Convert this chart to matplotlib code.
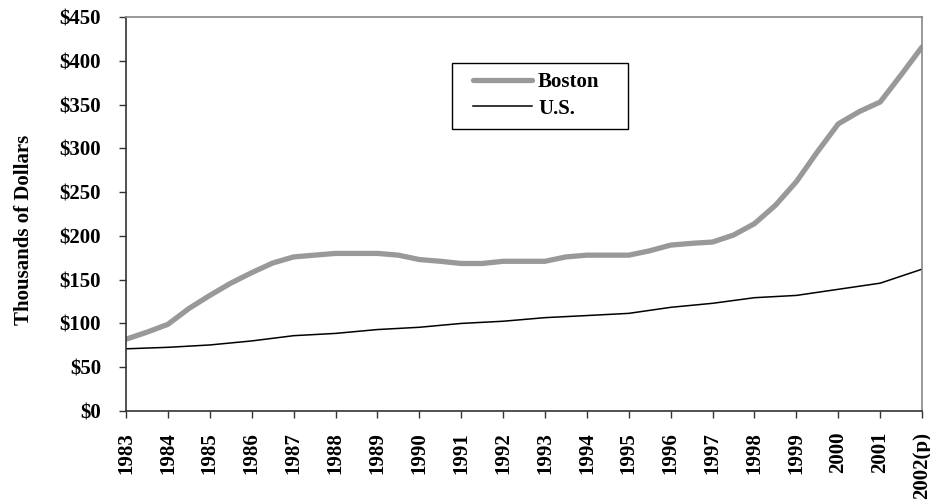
import matplotlib
matplotlib.use("Agg")
import matplotlib.pyplot as plt
from matplotlib.patches import Rectangle

# Boston median price, half-year points (thousands of dollars)
boston_x = [1983, 1983.5, 1984, 1984.5, 1985, 1985.5, 1986, 1986.5, 1987, 1987.5,
            1988, 1988.5, 1989, 1989.5, 1990, 1990.5, 1991, 1991.5, 1992, 1992.5,
            1993, 1993.5, 1994, 1994.5, 1995, 1995.5, 1996, 1996.5, 1997, 1997.5,
            1998, 1998.5, 1999, 1999.5, 2000, 2000.5, 2001, 2001.5, 2002]
boston_y = [82, 90, 99, 117, 132, 146, 158, 169, 176, 178,
            180, 180, 180, 178, 173, 171, 168.5, 168.5, 171, 171,
            171, 176, 178, 178, 178, 183, 189.5, 191.5, 193, 201,
            214, 235, 262, 296, 328, 342, 353, 384, 416]

# U.S. median price, annual
us_x = list(range(1983, 2003))
us_y = [71, 72.7, 75.4, 80, 86, 88.6, 93, 95.6, 100, 102.5,
        106.6, 109, 111.5, 118.4, 123, 129.4, 132, 139, 146, 162]

year_labels = [str(y) for y in range(1983, 2002)] + ["2002(p)"]
y_ticks = list(range(0, 451, 50))

plt.rcParams['font.family'] = ['Liberation Serif', 'DejaVu Serif']
plt.rcParams['font.weight'] = 'bold'
FS = 15
W, H = 930, 503

fig = plt.figure(figsize=(9.3, 5.03), dpi=100)
ax = fig.add_axes([0.1355, 0.183, 0.856, 0.783])

ax.plot(boston_x, boston_y, color='#999999', lw=3.8, label='Boston',
        solid_capstyle='round', solid_joinstyle='round')
ax.plot(us_x, us_y, color='black', lw=1.1, label='U.S.')

ax.set_xlim(1983, 2002)
ax.set_ylim(0, 450)
ax.set_xticks(us_x)
ax.set_xticklabels(year_labels, rotation=90, fontsize=FS, fontweight='bold')
ax.set_yticks(y_ticks)
ax.set_yticklabels(['$%d' % v for v in y_ticks], fontsize=FS, fontweight='bold')
ax.tick_params(axis='x', direction='out', length=5, width=1, pad=10, color='#333333')
ax.tick_params(axis='y', direction='out', length=5, width=1, pad=13, color='#333333')

for side in ['top', 'right']:
    ax.spines[side].set_color('#888888')
    ax.spines[side].set_linewidth(1.2)
for side in ['left', 'bottom']:
    ax.spines[side].set_color('#333333')
    ax.spines[side].set_linewidth(1.2)

ax.set_ylabel('Thousands of Dollars', fontsize=FS, fontweight='bold')
ax.yaxis.set_label_coords(-0.116, 0.459)

# legend box drawn separately so its width matches the original
fig.patches.append(Rectangle((452 / W, 1 - 129 / H), 176 / W, 66 / H,
                             transform=fig.transFigure, fill=False,
                             edgecolor='black', lw=1.0, zorder=5))
leg = fig.legend(loc='upper left', bbox_to_anchor=(464 / W, 1 - 63 / H),
                 frameon=False, handlelength=2.8, handletextpad=0.3,
                 borderpad=0.45, borderaxespad=0, labelspacing=0.3,
                 prop={'weight': 'bold', 'size': FS})

fig.savefig('out.png', dpi=100)
